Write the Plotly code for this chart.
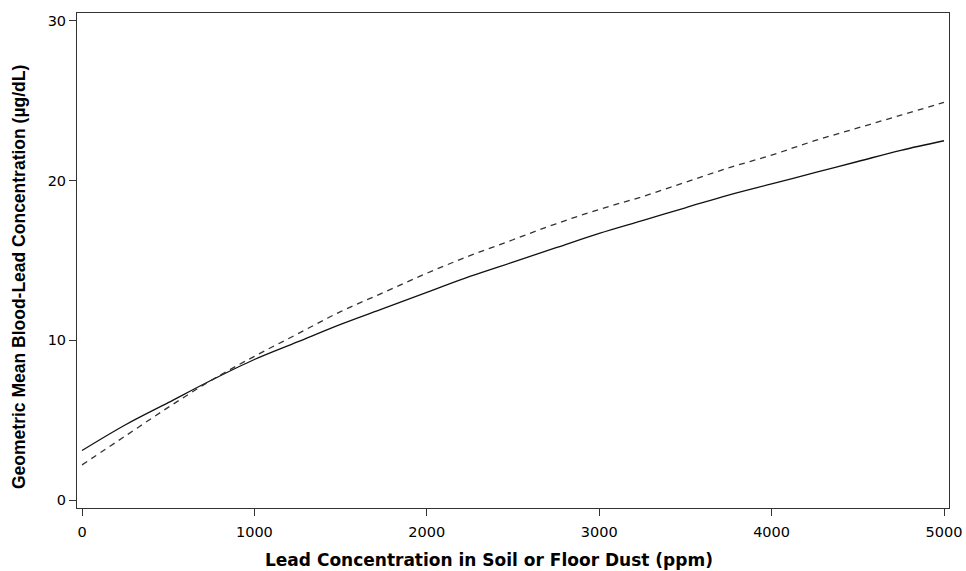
import plotly.graph_objects as go

lead_ppm = [0, 250, 500, 750, 1000, 1250, 1500, 1750, 2000, 2250, 2500,
            2750, 3000, 3250, 3500, 3750, 4000, 4250, 4500, 4750, 5000]
solid_blood = [3.1, 4.7, 6.1, 7.5, 8.8, 9.9, 11.0, 12.0, 13.0, 14.0, 14.9,
               15.8, 16.7, 17.5, 18.3, 19.1, 19.8, 20.5, 21.2, 21.9, 22.5]
dashed_blood = [2.2, 4.0, 5.8, 7.5, 9.0, 10.4, 11.8, 13.0, 14.2, 15.3, 16.3,
                17.3, 18.2, 19.0, 19.9, 20.8, 21.6, 22.5, 23.3, 24.1, 24.9]
x_ticks = [0, 1000, 2000, 3000, 4000, 5000]
y_ticks = [0, 10, 20, 30]
x_title = "Lead Concentration in Soil or Floor Dust (ppm)"
y_title = "Geometric Mean Blood-Lead Concentration (µg/dL)"

fig = go.Figure()
fig.add_trace(go.Scatter(x=lead_ppm, y=solid_blood, mode="lines",
                         line=dict(color="#111111", width=1.3), line_shape="spline",
                         showlegend=False))
fig.add_trace(go.Scatter(x=lead_ppm, y=dashed_blood, mode="lines",
                         line=dict(color="#333333", width=1.3, dash="6px,5px"),
                         line_shape="spline", showlegend=False))

fig.update_layout(
    width=966, height=571,
    margin=dict(l=77, r=17, t=13, b=63, autoexpand=False),
    paper_bgcolor="white", plot_bgcolor="white",
    font=dict(family="DejaVu Sans", size=12, color="black"),
)
axis_common = dict(showgrid=False, zeroline=False, showline=True, mirror=True,
                   linecolor="#333333", linewidth=1, ticks="outside", ticklen=7,
                   tickcolor="#333333", tickfont=dict(family="DejaVu Sans", size=14.5),
                   automargin=False)
fig.update_xaxes(range=[-29, 5029], tickvals=x_ticks,
                 ticktext=[str(v) for v in x_ticks], ticklabelstandoff=4, **axis_common)
fig.update_yaxes(range=[-0.5, 30.5], tickvals=y_ticks,
                 ticktext=[str(v) for v in y_ticks], **axis_common)

fig.add_annotation(text="<b>" + x_title + "</b>", xref="paper", yref="paper",
                   x=0.4725, y=-0.105, xanchor="center", yanchor="middle",
                   showarrow=False, font=dict(family="DejaVu Sans", size=17))
fig.add_annotation(text="<b>" + y_title + "</b>", xref="paper", yref="paper",
                   x=-0.0665, y=0.4667, xanchor="center", yanchor="middle",
                   textangle=-90, showarrow=False,
                   font=dict(family="Liberation Sans Narrow, Liberation Sans", size=17.5))

fig.write_html("out.html",
               config={"displayModeBar": False},
               post_script="document.body.style.margin='0';document.body.style.overflow='hidden';")
